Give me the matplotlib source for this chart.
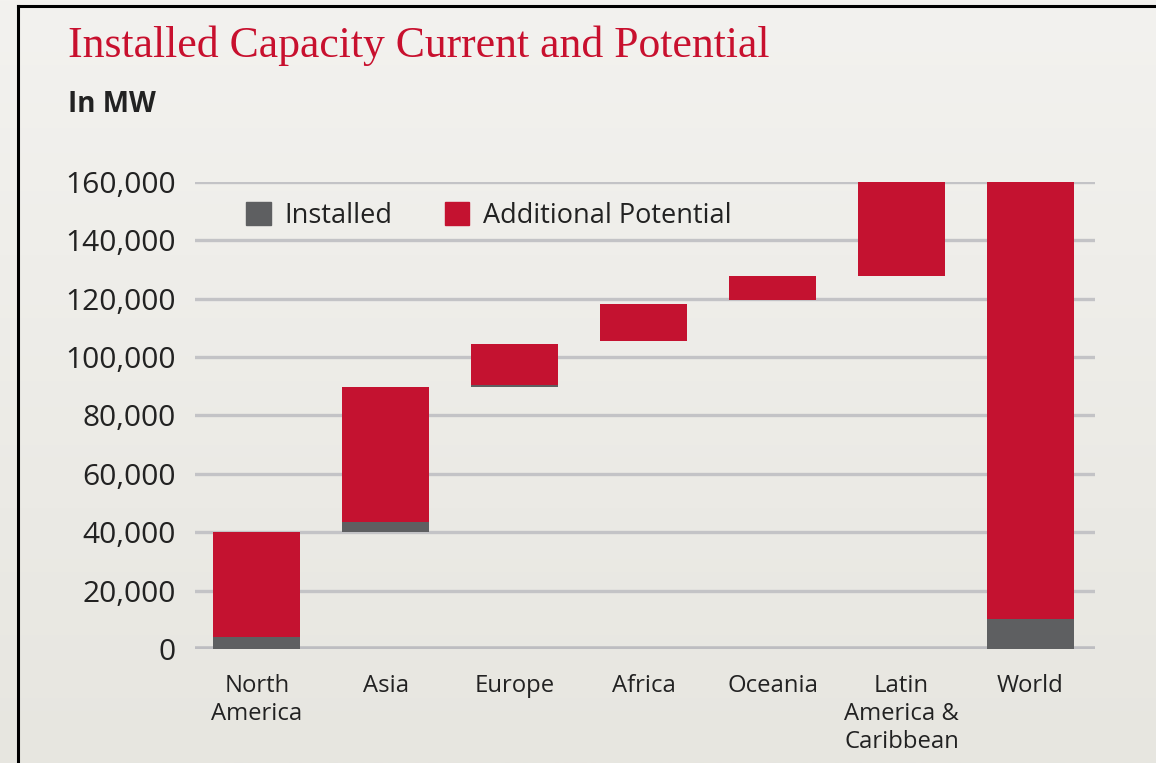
import numpy as np
import matplotlib
matplotlib.use("Agg")
from matplotlib import pyplot as plt
from matplotlib.patches import Patch
from matplotlib.colors import LinearSegmentedColormap

# data (MW)
regions = ["North\nAmerica", "Asia", "Europe", "Africa", "Oceania",
           "Latin\nAmerica &\nCaribbean", "World"]
base = [0, 40000, 89800, 105500, 119500, 127800, 0]
installed = [4200, 3400, 700, 0, 0, 0, 10300]
top = [40000, 89700, 104500, 118200, 127700, 160000, 160000]
yticks = [0, 20000, 40000, 60000, 80000, 100000, 120000, 140000, 160000]

red = "#C41230"
grey = "#5E5F61"

plt.rcParams['font.family'] = ['Open Sans', 'DejaVu Sans']

fig = plt.figure(figsize=(11.56, 7.63), dpi=100)

# background with a soft vertical gradient
bg = fig.add_axes([0, 0, 1, 1], zorder=-10)
grad = np.linspace(0, 1, 256).reshape(-1, 1)
cm = LinearSegmentedColormap.from_list("bg", ["#F3F2EF", "#E7E6E0"])
bg.imshow(grad, aspect="auto", cmap=cm, extent=[0, 1, 0, 1], origin="upper")
bg.set_xlim(0, 1)
bg.set_ylim(0, 1)
bg.axis("off")
# frame lines at left and top
bg.plot([18 / 1156, 18 / 1156], [0, 1 - 6 / 763], color="black", lw=2.2)
bg.plot([18 / 1156, 1], [1 - 6 / 763, 1 - 6 / 763], color="black", lw=2.2)

ax = fig.add_axes([195 / 1156, (763 - 649) / 763, 900 / 1156, 467 / 763])
ax.set_facecolor("none")

x = np.arange(len(regions))
pot = [t - b - i for t, b, i in zip(top, base, installed)]
pot_bottom = [b + i for b, i in zip(base, installed)]

ax.bar(x, installed, bottom=base, width=0.675, color=grey, zorder=3)
ax.bar(x, pot, bottom=pot_bottom, width=0.675, color=red, zorder=3)

ax.set_xlim(-0.48, 6.5)
ax.set_ylim(0, 160000)
ax.set_yticks(yticks)
ax.set_yticklabels([f"{v:,}" for v in yticks], fontsize=21.5, color="#222222")
ax.yaxis.grid(True, color="#C3C3C6", lw=2.4, zorder=1)
ax.axhline(0, color="#BDBDC1", lw=4, zorder=2)
for s in ax.spines.values():
    s.set_visible(False)
ax.tick_params(axis="y", length=0, pad=14)
ax.tick_params(axis="x", length=0, pad=18)
ax.set_xticks(x)
ax.set_xticklabels(regions, fontsize=17.2, color="#222222", linespacing=1.22,
                   va="top")

handles = [Patch(color=grey, label="Installed"),
           Patch(color=red, label="Additional Potential")]
fig.legend(handles=handles, loc="center left",
           bbox_to_anchor=(222 / 1156, 1 - 216 / 763), ncol=2, frameon=False,
           fontsize=19.5, handlelength=0.9, handleheight=0.9,
           handletextpad=0.5, columnspacing=1.95, labelcolor="#222222")

fig.text(68 / 1156, 1 - 46 / 763, "Installed Capacity Current and Potential",
         family=["Liberation Serif", "DejaVu Serif"], fontsize=31.5,
         color="#C8102E", va="center", ha="left")
fig.text(68 / 1156, 1 - 105 / 763, "In MW", fontsize=20, weight="bold",
         color="#222222", va="center", ha="left")

fig.savefig("out.png", dpi=100)
